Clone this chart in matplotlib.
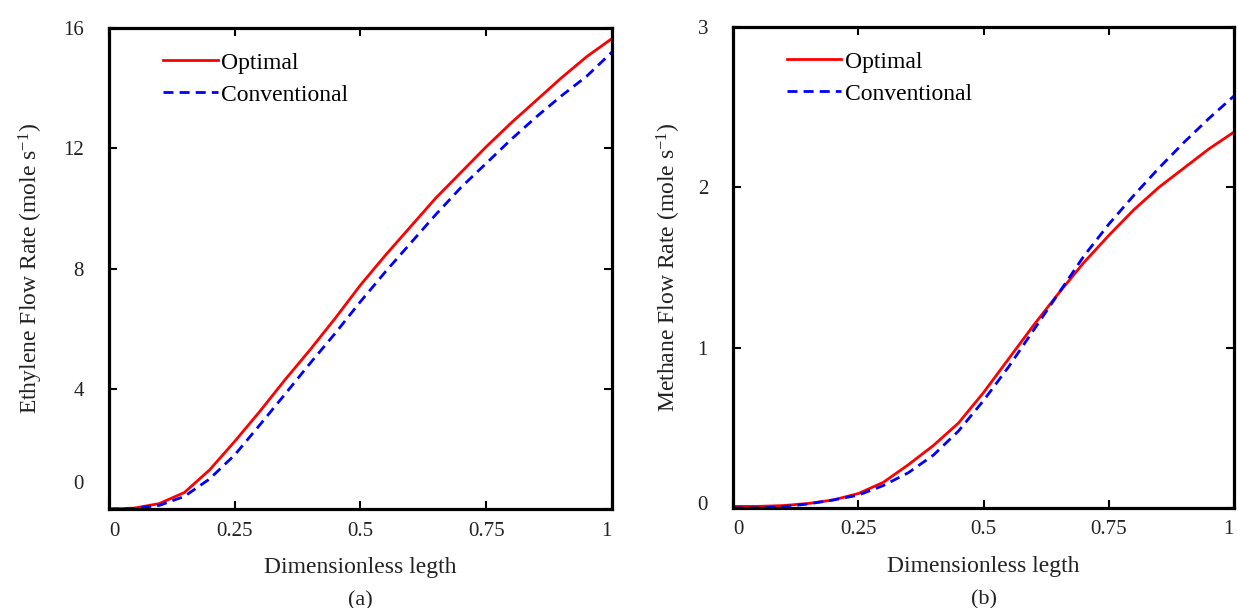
import matplotlib
matplotlib.use("Agg")
import matplotlib.pyplot as plt
import matplotlib.transforms as mtransforms

plt.rcParams["font.family"] = ["Liberation Serif", "DejaVu Serif"]
plt.rcParams["mathtext.fontset"] = "custom"
plt.rcParams["mathtext.rm"] = "Liberation Serif"
plt.rcParams["mathtext.it"] = "Liberation Serif:italic"

# dimensionless reactor length
z = [0.0, 0.05, 0.1, 0.15, 0.2, 0.25, 0.3, 0.35, 0.4, 0.45, 0.5,
     0.55, 0.6, 0.65, 0.7, 0.75, 0.8, 0.85, 0.9, 0.95, 1.0]

# (a) ethylene flow rate, mole/s
eth_opt = [0.0, 0.03, 0.18, 0.55, 1.3, 2.25, 3.25, 4.3, 5.3, 6.35, 7.45,
           8.45, 9.4, 10.35, 11.2, 12.05, 12.85, 13.6, 14.35, 15.05, 15.65]
eth_conv = [0.0, 0.02, 0.12, 0.42, 1.0, 1.8, 2.8, 3.82, 4.85, 5.85, 6.9,
            7.9, 8.85, 9.8, 10.7, 11.5, 12.3, 13.05, 13.75, 14.4, 15.2]

# (b) methane flow rate, mole/s
met_opt = [0.01, 0.01, 0.015, 0.028, 0.05, 0.09, 0.16, 0.27, 0.39, 0.53, 0.72,
           0.93, 1.14, 1.34, 1.53, 1.70, 1.86, 2.0, 2.12, 2.24, 2.345]
met_conv = [0.0, 0.0, 0.008, 0.025, 0.05, 0.08, 0.14, 0.22, 0.33, 0.48, 0.67,
            0.88, 1.11, 1.34, 1.57, 1.77, 1.95, 2.12, 2.28, 2.43, 2.57]

xticks = [0, 0.25, 0.5, 0.75, 1]
xtick_labels = ["0", "0.25", "0.5", "0.75", "1"]

panels = [
    dict(opt=eth_opt, conv=eth_conv, ylim=(0, 16), yticks=[0, 4, 8, 12, 16],
         ylabel="Ethylene Flow Rate (mole s$^{-1}$)", tag="(a)",
         rect=[0.0881, 0.1628, 0.4066, 0.7911], ylab_x=-0.127, zero_shift=27),
    dict(opt=met_opt, conv=met_conv, ylim=(0, 3), yticks=[0, 1, 2, 3],
         ylabel="Methane Flow Rate (mole s$^{-1}$)", tag="(b)",
         rect=[0.5926, 0.1645, 0.4050, 0.7911], ylab_x=-0.1, zero_shift=5),
]

fig = plt.figure(figsize=(12.37, 6.08), dpi=100)

for p in panels:
    ax = fig.add_axes(p["rect"])
    ax.plot(z, p["opt"], color="red", lw=2.0, label="Optimal")
    ax.plot(z, p["conv"], color="blue", lw=2.0, ls=(0, (3.6, 2.2)), label="Conventional")
    ax.set_xlim(0, 1)
    ax.set_ylim(*p["ylim"])
    ax.set_xticks(xticks)
    ax.set_xticklabels(xtick_labels)
    ax.set_yticks(p["yticks"])
    ax.tick_params(direction="in", length=6, width=1.5, top=True, right=True,
                   labelsize=15, labelcolor="#222222")
    ax.tick_params(axis="y", pad=18)
    ax.tick_params(axis="x", pad=9)
    for s in ax.spines.values():
        s.set_linewidth(2.3)

    xl = ax.get_xticklabels()
    xl[0].set_ha("left")
    xl[-1].set_ha("right")
    # the zero label sits a bit above the axis in the original
    yl = ax.get_yticklabels()
    yl[0].set_transform(yl[0].get_transform() +
                        mtransforms.ScaledTranslation(0, p["zero_shift"] / 100, fig.dpi_scale_trans))

    ax.set_xlabel("Dimensionless legth", fontsize=17, va="top", color="#222222")
    ax.xaxis.set_label_coords(0.5, -0.1)
    ax.set_ylabel(p["ylabel"], fontsize=17, color="#222222")
    ax.yaxis.set_label_coords(p["ylab_x"], 0.5)
    ax.text(0.5, -0.19, p["tag"], transform=ax.transAxes, ha="center", va="center",
            fontsize=16, color="#222222")

    ax.legend(loc="upper left", bbox_to_anchor=(0.108, 0.95), frameon=False, fontsize=17,
              handlelength=2.3, handletextpad=0.15, labelspacing=0.45,
              borderpad=0, borderaxespad=0)

fig.savefig("out.png", dpi=100)
